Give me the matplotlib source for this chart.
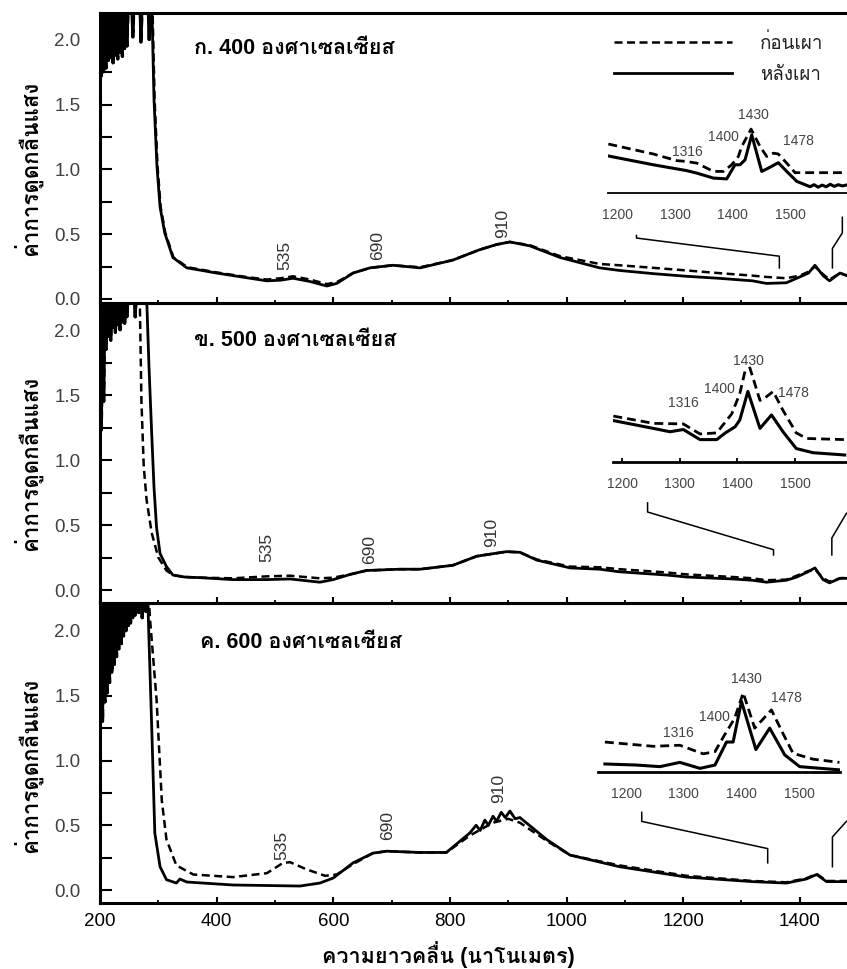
import numpy as np
import matplotlib
matplotlib.use("Agg")
import matplotlib.pyplot as plt
from matplotlib import font_manager
from matplotlib.ft2font import FT2Font
from matplotlib.ticker import MultipleLocator, FixedLocator


def find_thai_family():
    # pick any installed family that really has Thai glyphs
    found = []
    for f in font_manager.fontManager.ttflist:
        try:
            cmap = FT2Font(f.fname).get_charmap()
        except Exception:
            continue
        if 0x0E01 in cmap and 0x0E2A in cmap and 0x0E40 in cmap:
            found.append(f.name)
    for pref in ["Loma", "Noto Sans Thai", "Noto Sans Thai UI", "Garuda", "Waree",
                 "Umpush", "Tlwg Typo", "Sawasdee"]:
        if pref in found:
            return pref
    return found[0] if found else None


thai = find_thai_family()
plt.rcParams['font.family'] = [f for f in ['Liberation Sans', thai, 'DejaVu Sans'] if f]

# ---------------- data ----------------
panel_titles = ["ก. 400 องศาเซลเซียส", "ข. 500 องศาเซลเซียส", "ค. 600 องศาเซลเซียส"]
legend_labels = ["ก่อนเผา", "หลังเผา"]
y_label = "ค่าการดูดกลืนแสง"
x_label = "ความยาวคลื่น (นาโนเมตร)"
main_peaks = ["535", "690", "910"]
inset_peaks = ["1316", "1400", "1430", "1478"]

# noisy detector region at the start of each scan (2 nm steps from 200 nm)
noise_400 = [2.30, 1.72, 2.30, 1.75, 2.28, 1.78,
             2.30, 1.84, 2.30, 1.86, 2.28, 1.82, 2.30, 1.88, 2.30, 1.85,
             2.30, 1.90, 2.28, 1.87, 2.30, 1.93, 2.30,
             1.95, 2.30, 2.30, 2.30, 2.30, 2.02, 2.30, 2.30, 2.30, 2.30, 2.30,
             2.30, 1.98, 2.30, 2.30, 2.30, 2.30, 2.30, 2.30, 2.00, 2.30, 2.30]
noise_500 = [2.30, 1.23, 2.20, 1.45, 2.30, 1.85, 2.26, 1.95, 2.30, 1.92,
             2.25, 2.02, 2.30, 1.98, 2.24, 2.04, 2.30, 2.00, 2.30, 2.06,
             2.25, 2.05, 2.30, 2.10, 2.30, 2.30, 2.30, 2.30, 2.30, 2.30,
             2.10, 2.30, 2.30, 2.30]
noise_600 = [1.21, 2.30, 1.30, 2.28, 1.45, 2.30, 1.52, 2.28, 1.60, 2.30,
             1.68, 2.26, 1.74, 2.30, 1.80, 2.28, 1.86, 2.30, 1.90, 2.28,
             1.96, 2.30, 2.00, 2.26, 2.04, 2.30, 2.06, 2.30, 2.10, 2.30,
             2.12, 2.30, 2.30, 2.14, 2.30, 2.30, 2.10, 2.30, 2.30, 2.15,
             2.30, 2.30]

# 400 C
wl_after_400 = [289, 292.6, 297.7, 303, 311, 325, 349, 375, 400, 450, 486, 510, 531, 560,
                589, 606, 634, 663, 702, 749, 805, 851, 880, 903, 937, 989, 1057, 1091,
                1150, 1206, 1260, 1319, 1343, 1377, 1400, 1415, 1426, 1440, 1451, 1469, 1481]
after_400 = [2.25, 1.54, 1.02, 0.71, 0.51, 0.32, 0.24, 0.22, 0.20, 0.165, 0.14, 0.145, 0.16, 0.135,
             0.10, 0.12, 0.20, 0.24, 0.26, 0.24, 0.30, 0.38, 0.42, 0.44, 0.41, 0.32, 0.24, 0.22,
             0.195, 0.175, 0.16, 0.14, 0.12, 0.125, 0.17, 0.20, 0.26, 0.18, 0.14, 0.20, 0.18]
wl_before_400 = [290, 293.6, 298.7, 304, 312, 326, 350, 375, 400, 450, 486, 510, 531, 560,
                 589, 606, 634, 663, 702, 749, 805, 851, 880, 903, 937, 989, 1057, 1091,
                 1150, 1206, 1260, 1319, 1343, 1377, 1400, 1415, 1426, 1440, 1451, 1469, 1481]
before_400 = [2.25, 1.54, 1.02, 0.71, 0.51, 0.32, 0.245, 0.225, 0.205, 0.17, 0.15, 0.16, 0.175, 0.15,
              0.115, 0.13, 0.20, 0.24, 0.26, 0.245, 0.30, 0.38, 0.42, 0.44, 0.415, 0.33, 0.27, 0.26,
              0.24, 0.22, 0.20, 0.18, 0.17, 0.16, 0.18, 0.21, 0.25, 0.19, 0.15, 0.20, 0.18]

# 500 C
wl_after_500 = [268, 280, 284, 288.6, 292.6, 297, 303, 314, 325, 345, 371, 428, 486, 526, 577,
                600, 629, 657, 714, 749, 805, 846, 897, 920, 949, 1006, 1057, 1091, 1172, 1206,
                1285, 1319, 1343, 1377, 1395, 1414, 1426, 1440, 1451, 1469, 1481]
after_500 = [2.30, 2.25, 1.72, 1.21, 0.79, 0.48, 0.28, 0.18, 0.115, 0.10, 0.095, 0.08, 0.08, 0.085, 0.06,
             0.08, 0.12, 0.15, 0.16, 0.16, 0.19, 0.26, 0.295, 0.29, 0.23, 0.17, 0.16, 0.14, 0.115, 0.10,
             0.085, 0.075, 0.06, 0.075, 0.10, 0.14, 0.17, 0.08, 0.055, 0.09, 0.09]
wl_before_500 = [268, 271, 275, 280, 288.6, 300, 314, 325, 345, 371, 428, 486, 526, 577,
                 600, 629, 657, 714, 749, 805, 846, 897, 920, 949, 1006, 1057, 1091, 1172, 1206,
                 1285, 1319, 1343, 1377, 1395, 1414, 1426, 1440, 1451, 1469, 1481]
before_500 = [2.30, 1.46, 0.95, 0.69, 0.44, 0.25, 0.15, 0.115, 0.10, 0.095, 0.09, 0.105, 0.11, 0.09,
              0.095, 0.12, 0.15, 0.16, 0.16, 0.19, 0.26, 0.295, 0.29, 0.235, 0.18, 0.175, 0.16, 0.135, 0.12,
              0.10, 0.09, 0.075, 0.08, 0.11, 0.145, 0.16, 0.09, 0.065, 0.09, 0.095]

# 600 C
wl_after_600 = [283, 289, 294, 303, 314, 331, 337, 349, 428, 543, 577, 600, 634, 668, 692, 749,
                794, 834, 845, 852, 860, 866, 874, 880, 888, 895, 903, 912, 920, 966, 1006, 1091,
                1206, 1319, 1377, 1411, 1429, 1446, 1481]
after_600 = [2.08, 1.21, 0.44, 0.18, 0.08, 0.054, 0.085, 0.062, 0.039, 0.031, 0.054, 0.093, 0.21, 0.285, 0.30, 0.29,
             0.29, 0.44, 0.50, 0.46, 0.54, 0.50, 0.57, 0.53, 0.60, 0.56, 0.61, 0.55, 0.56, 0.39, 0.27, 0.18,
             0.10, 0.065, 0.054, 0.085, 0.12, 0.065, 0.065]
wl_before_600 = [286, 297, 306, 314, 331, 360, 428, 486, 514, 526, 554, 586, 606, 634, 668, 692, 749,
                 794, 834, 874, 900, 920, 966, 1006, 1091, 1206, 1319, 1377, 1411, 1429, 1446, 1481]
before_600 = [2.08, 1.47, 0.69, 0.39, 0.19, 0.12, 0.10, 0.13, 0.21, 0.215, 0.16, 0.11, 0.12, 0.20, 0.285, 0.30, 0.29,
              0.29, 0.42, 0.52, 0.55, 0.52, 0.38, 0.27, 0.19, 0.11, 0.07, 0.06, 0.09, 0.125, 0.07, 0.07]

# insets (1200-1600 nm, scaled absorbance, 0..1 of inset height)
inset_wl_before_400 = [1184.6, 1262.5, 1303, 1320, 1337.7, 1366.5, 1383.8, 1398.2, 1409.8, 1415.6,
                       1431.8, 1447.4, 1459, 1470.5, 1479, 1493.6, 1508, 1594.7]
inset_before_400 = [0.59, 0.47, 0.39, 0.38, 0.36, 0.26, 0.26, 0.34, 0.44, 0.56,
                    0.77, 0.56, 0.44, 0.48, 0.47, 0.36, 0.245, 0.245]
inset_wl_after_400 = [1184.6, 1262.5, 1320, 1337.7, 1366.5, 1389.6, 1404, 1412.7, 1421.4, 1433,
                      1441.6, 1450.3, 1461.8, 1479, 1493.6, 1511, 1534, 1541, 1548, 1555, 1562,
                      1569, 1576, 1583, 1590, 1597]
inset_after_400 = [0.446, 0.34, 0.27, 0.24, 0.18, 0.17, 0.34, 0.34, 0.40, 0.70,
                   0.48, 0.26, 0.30, 0.365, 0.26, 0.14, 0.076, 0.10, 0.07, 0.095, 0.075,
                   0.105, 0.08, 0.10, 0.085, 0.096]

inset_wl_before_500 = [1184.6, 1254, 1306, 1335, 1364, 1390, 1404, 1413, 1421.5, 1439,
                       1447, 1462, 1479, 1502, 1520, 1586]
inset_before_500 = [0.41, 0.345, 0.34, 0.25, 0.26, 0.43, 0.61, 0.81, 0.84, 0.55,
                    0.57, 0.63, 0.46, 0.26, 0.21, 0.20]
inset_wl_after_500 = [1184.6, 1254, 1283, 1306, 1335, 1364, 1379, 1396, 1404, 1418,
                      1439, 1459, 1479, 1502, 1531, 1586]
inset_after_500 = [0.37, 0.30, 0.27, 0.29, 0.20, 0.20, 0.26, 0.315, 0.375, 0.63,
                   0.30, 0.42, 0.27, 0.12, 0.083, 0.0625]

inset_wl_before_600 = [1163, 1247, 1293, 1333.5, 1354, 1371, 1388, 1403, 1423, 1452,
                       1472, 1489.5, 1524, 1570]
inset_before_600 = [0.28, 0.24, 0.25, 0.17, 0.19, 0.35, 0.50, 0.74, 0.41, 0.58,
                    0.36, 0.175, 0.12, 0.09]
inset_wl_after_600 = [1163, 1218, 1258.5, 1293, 1328, 1354, 1374, 1385.5, 1400, 1425,
                      1449, 1475, 1501, 1570]
inset_after_600 = [0.075, 0.065, 0.05, 0.09, 0.034, 0.065, 0.28, 0.28, 0.66, 0.21,
                   0.41, 0.16, 0.05, 0.02]

panels = [
    dict(noise=noise_400, wl_b=wl_before_400, b=before_400, wl_a=wl_after_400, a=after_400,
         iwl_b=inset_wl_before_400, ib=inset_before_400, iwl_a=inset_wl_after_400, ia=inset_after_400),
    dict(noise=noise_500, wl_b=wl_before_500, b=before_500, wl_a=wl_after_500, a=after_500,
         iwl_b=inset_wl_before_500, ib=inset_before_500, iwl_a=inset_wl_after_500, ia=inset_after_500),
    dict(noise=noise_600, wl_b=wl_before_600, b=before_600, wl_a=wl_after_600, a=after_600,
         iwl_b=inset_wl_before_600, ib=inset_before_600, iwl_a=inset_wl_after_600, ia=inset_after_600),
]

# ---------------- layout (reference pixels) ----------------
W, H = 847, 969


def fig_xy(x, y):
    return x / W, 1 - y / H


panel_px = [(12.5, 303), (303, 603), (603, 903)]
ylims = [(-0.031, 2.21), (-0.10, 2.208), (-0.10, 2.216)]
title_px = [(194, 48), (194, 340), (200, 642)]
peak_px = [[(285, 255), (378, 245), (503, 223)],
           [(267, 547), (370, 550), (492, 532)],
           [(282, 845), (388, 825), (499, 788)]]
inset_rect_px = [(608, 110, 847, 193), (613, 350, 847, 462), (598, 665, 840, 772)]
inset_xlims = [(1184, 1598), (1184, 1590), (1151, 1571)]
inset_lw = [1.3, 2.0, 2.0]
inset_ticklen = [0, 3, 0]
inset_label_px = [[(687, 152), (723, 137), (753, 115), (798, 141)],
                  [(683, 403), (719, 389), (748, 361), (793, 393)],
                  [(678, 733), (714, 717), (746, 679), (786, 698)]]
brackets = [
    ([1120, 1120, 1365, 1365], [0.49, 0.47, 0.33, 0.24], [1456, 1456, 1473, 1473], [0.24, 0.39, 0.51, 0.63]),
    ([1139, 1139, 1355, 1355], [0.67, 0.60, 0.31, 0.27], [1455, 1455, 1480], [0.27, 0.40, 0.59]),
    ([1129, 1129, 1345, 1345], [0.60, 0.53, 0.32, 0.21], [1456, 1456, 1480], [0.18, 0.41, 0.53]),
]
ylabel_y = [168, 463, 765]

dash = (0, (3.2, 1.8))
fig = plt.figure(figsize=(W / 100, H / 100), dpi=100)

for i, p in enumerate(panels):
    top, bot = panel_px[i]
    l, b = fig_xy(100, bot)
    ax = fig.add_axes([l, b, (847 - 100) / W, (bot - top) / H])
    ax.patch.set_visible(False)

    # the two scans are sampled 1 nm apart in the noisy region
    noise_wl = 200 + 2 * np.arange(len(p['noise']))
    xb = np.concatenate([noise_wl + 1, p['wl_b']])
    yb = np.concatenate([p['noise'], p['b']])
    xa = np.concatenate([noise_wl, p['wl_a']])
    ya = np.concatenate([p['noise'], p['a']])
    lb, = ax.plot(xb, yb, color='k', lw=1.8, ls=dash)
    la, = ax.plot(xa, ya, color='k', lw=2.0)
    # the noisy start is drawn solid for the dashed scan too
    ax.plot(noise_wl + 1, p['noise'], color='k', lw=1.6)

    ax.set_xlim(200, 1481)
    ax.set_ylim(*ylims[i])
    for s in ['left', 'bottom', 'top']:
        ax.spines[s].set_linewidth(2.2)
    ax.spines['right'].set_visible(False)
    ax.yaxis.set_major_locator(FixedLocator([0, 0.5, 1.0, 1.5, 2.0]))
    ax.yaxis.set_minor_locator(FixedLocator([0.25, 0.75, 1.25, 1.75]))
    ax.yaxis.set_major_formatter(plt.FormatStrFormatter('%.1f'))
    ax.xaxis.set_major_locator(MultipleLocator(200))
    ax.xaxis.set_minor_locator(MultipleLocator(100))
    ax.tick_params(axis='y', which='both', direction='in', length=8.5, width=1.5,
                   labelsize=13.5, labelcolor='#404040', pad=14)
    ax.tick_params(axis='x', which='major', direction='in', length=4.5, width=1.5,
                   labelsize=13.5, pad=7)
    ax.tick_params(axis='x', which='minor', direction='in', length=2.5, width=1.3)
    if i < 2:
        ax.tick_params(axis='x', labelbottom=False)

    # zoom brackets
    bx1, by1, bx2, by2 = brackets[i]
    ax.plot(bx1, by1, color='k', lw=1.1, clip_on=False)
    ax.plot(bx2, by2, color='k', lw=1.1, clip_on=False)

    if i == 0:
        ax.legend([lb, la], legend_labels, loc='upper left',
                  bbox_to_anchor=fig_xy(614, 33), bbox_transform=fig.transFigure,
                  frameon=False, handlelength=6.3, handletextpad=1.5, labelspacing=0.75,
                  borderpad=0, borderaxespad=0, fontsize=13.5, labelcolor='#222222')

    tx, ty = fig_xy(*title_px[i])
    fig.text(tx, ty, panel_titles[i], fontsize=15.5, fontweight='bold', ha='left', va='center')
    for lab, pos in zip(main_peaks, peak_px[i]):
        px_, py_ = fig_xy(*pos)
        fig.text(px_, py_, lab, fontsize=12.5, rotation=90, ha='center', va='center', color='#333333')
    yx, yy = fig_xy(27, ylabel_y[i])
    fig.text(yx, yy, y_label, fontsize=16, fontweight='bold', rotation=90, ha='center', va='center')

    # inset
    x0, y0, x1, y1 = inset_rect_px[i]
    il, ib_ = fig_xy(x0, y1)
    iax = fig.add_axes([il, ib_, (x1 - x0) / W, (y1 - y0) / H])
    iax.patch.set_visible(False)
    iax.plot(p['iwl_b'], p['ib'], color='k', lw=2.0, ls=dash)
    iax.plot(p['iwl_a'], p['ia'], color='k', lw=2.2)
    iax.set_xlim(*inset_xlims[i])
    iax.set_ylim(0, 1)
    for s in ['left', 'right', 'top']:
        iax.spines[s].set_visible(False)
    iax.spines['bottom'].set_linewidth(inset_lw[i])
    iax.set_yticks([])
    iax.set_xticks([1200, 1300, 1400, 1500])
    iax.tick_params(axis='x', direction='in', length=inset_ticklen[i], width=1.3,
                    labelsize=10, labelcolor='#444444', pad=11)
    for lab, pos in zip(inset_peaks, inset_label_px[i]):
        px_, py_ = fig_xy(*pos)
        fig.text(px_, py_, lab, fontsize=10, ha='center', va='center', color='#444444')

xl, yl = fig_xy(448, 955)
fig.text(xl, yl, x_label, fontsize=15.5, fontweight='bold', ha='center', va='center')

fig.savefig('out.png', dpi=100)
